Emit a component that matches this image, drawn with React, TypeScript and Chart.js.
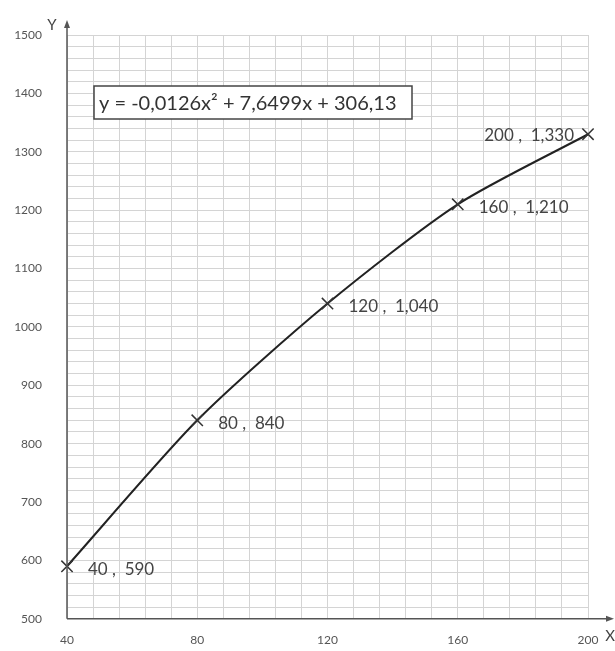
import React, { useEffect, useRef } from "react";
import { Chart, registerables } from "chart.js";

Chart.register(...registerables);

const xValues = [40, 80, 120, 160, 200];
const yValues = [590, 840, 1040, 1210, 1330];
const pointLabels = ["40 ,  590", "80 ,  840", "120 ,  1,040", "160 ,  1,210", "200 ,  1,330"];
const xMin = 40;
const xMax = 200;
const yMin = 500;
const yMax = 1500;
const equationText = "y = -0,0126x² + 7,6499x + 306,13";
const xAxisTitle = "X";
const yAxisTitle = "Y";

const FONT = "Lato, 'Open Sans', sans-serif";

const overlayPlugin = {
  id: "overlay",
  afterDraw(chart: any) {
    const ctx = chart.ctx;
    const area = chart.chartArea;
    ctx.save();
    // axes
    ctx.strokeStyle = "#555";
    ctx.fillStyle = "#555";
    ctx.lineWidth = 1.5;
    ctx.beginPath();
    ctx.moveTo(area.left, area.bottom);
    ctx.lineTo(area.left, 24);
    ctx.moveTo(area.left, area.bottom);
    ctx.lineTo(610, area.bottom);
    ctx.stroke();
    // arrows
    ctx.beginPath();
    ctx.moveTo(area.left, 20);
    ctx.lineTo(area.left - 3, 28);
    ctx.lineTo(area.left + 3, 28);
    ctx.closePath();
    ctx.fill();
    ctx.beginPath();
    ctx.moveTo(614, area.bottom);
    ctx.lineTo(606, area.bottom - 3);
    ctx.lineTo(606, area.bottom + 3);
    ctx.closePath();
    ctx.fill();
    // axis letters
    ctx.fillStyle = "#444";
    ctx.font = `15px ${FONT}`;
    ctx.textAlign = "center";
    ctx.textBaseline = "middle";
    ctx.fillText(yAxisTitle, 52, 25);
    ctx.fillText(xAxisTitle, 610, 636);
    // equation box
    const bx = 94, by = 86, bw = 318, bh = 33;
    ctx.fillStyle = "#fff";
    ctx.fillRect(bx, by, bw, bh);
    ctx.strokeStyle = "#444";
    ctx.lineWidth = 1.5;
    ctx.strokeRect(bx, by, bw, bh);
    ctx.fillStyle = "#333";
    ctx.font = `20px ${FONT}`;
    ctx.textAlign = "left";
    ctx.textBaseline = "middle";
    ctx.fillText(equationText, bx + 5, by + bh / 2 + 1);
    // point labels
    const meta = chart.getDatasetMeta(0);
    ctx.font = `17px ${FONT}`;
    ctx.fillStyle = "#444";
    meta.data.forEach((pt: any, i: number) => {
      if (i === meta.data.length - 1) {
        ctx.textAlign = "right";
        ctx.fillText(pointLabels[i], pt.x - 14, pt.y + 1);
      } else {
        ctx.textAlign = "left";
        ctx.fillText(pointLabels[i], pt.x + 21, pt.y + 3);
      }
    });
    ctx.restore();
  },
};

export default function App() {
  const ref = useRef<HTMLCanvasElement | null>(null);
  useEffect(() => {
    if (!ref.current) return;
    const chart = new Chart(ref.current, {
      type: "scatter",
      data: {
        datasets: [
          {
            data: xValues.map((x, i) => ({ x, y: yValues[i] })),
            showLine: true,
            tension: 0.25,
            clip: false,
            borderColor: "#222",
            borderWidth: 2,
            pointStyle: "crossRot",
            pointRadius: 8,
            pointBorderColor: "#333",
            pointBorderWidth: 1.5,
            pointBackgroundColor: "#333",
          } as any,
        ],
      },
      options: {
        animation: false,
        responsive: true,
        maintainAspectRatio: false,
        layout: { padding: { top: 35, right: 27, left: 0, bottom: 0 } },
        plugins: { legend: { display: false }, tooltip: { enabled: false } },
        scales: {
          x: {
            type: "linear",
            min: xMin,
            max: xMax,
            border: { display: false },
            grid: { color: "#d4d4d4", lineWidth: 1, drawTicks: false },
            ticks: {
              stepSize: 8,
              autoSkip: false,
              maxRotation: 0,
              padding: 14,
              color: "#555",
              font: { family: FONT, size: 12 },
              callback: (v: any) => (Number(v) % 40 === 0 ? String(v) : ""),
            },
            afterFit: (s: any) => {
              s.height = 29;
            },
          },
          y: {
            type: "linear",
            min: yMin,
            max: yMax,
            border: { display: false },
            grid: { color: "#d4d4d4", lineWidth: 1, drawTicks: false },
            ticks: {
              stepSize: 20,
              autoSkip: false,
              padding: 25,
              color: "#555",
              font: { family: FONT, size: 12 },
              callback: (v: any) => (Number(v) % 100 === 0 ? String(v) : ""),
            },
            afterFit: (s: any) => {
              s.width = 67;
            },
          },
        },
      },
      plugins: [overlayPlugin],
    });
    return () => chart.destroy();
  }, []);
  return (
    <div style={{ position: "fixed", left: 0, top: 0, width: 615, height: 651, background: "#fff" }}>
      <canvas ref={ref} />
    </div>
  );
}
